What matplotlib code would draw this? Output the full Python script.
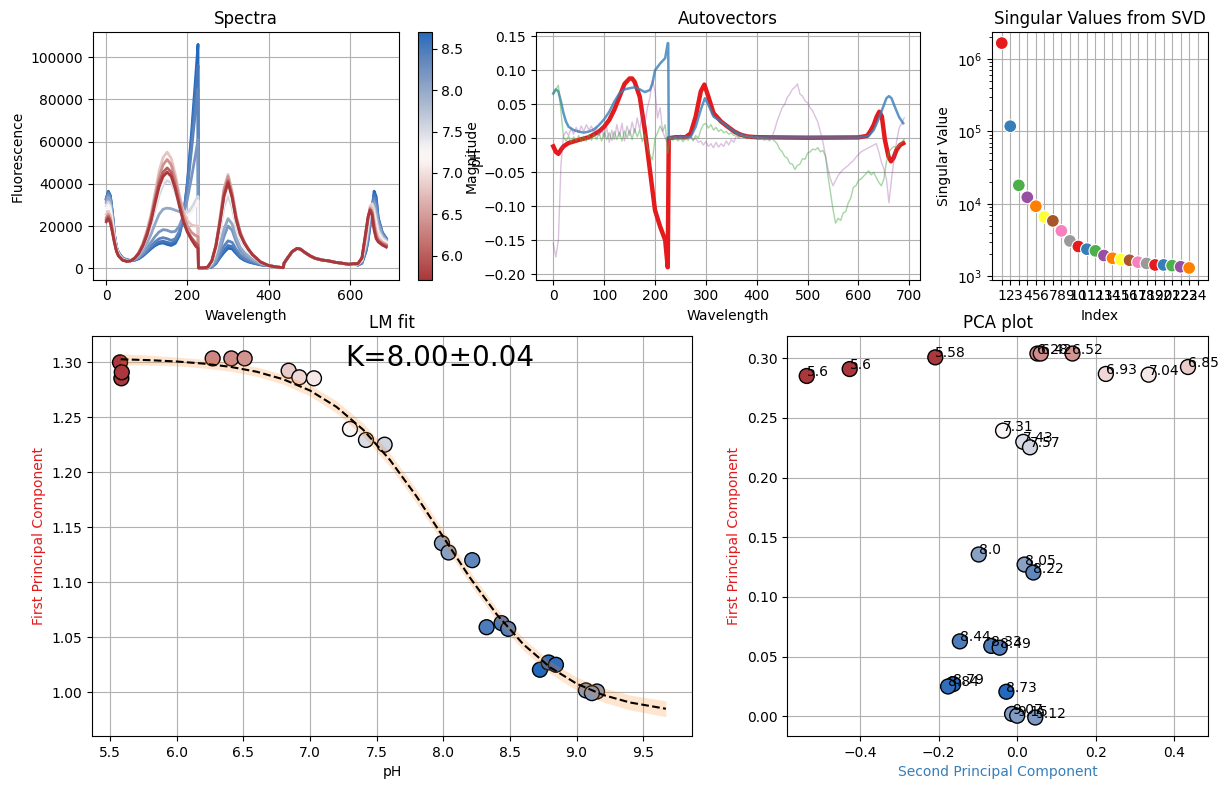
import numpy as np
import matplotlib
matplotlib.use("Agg")
import matplotlib.pyplot as plt
from matplotlib.colors import Normalize, LinearSegmentedColormap
from matplotlib.cm import ScalarMappable

try:
    import seaborn as sns
    cmap = sns.color_palette("vlag_r", as_cmap=True)
except Exception:
    cmap = LinearSegmentedColormap.from_list(
        "vlag_r_approx", ["#a9373b", "#d59a99", "#f2eeee", "#9bb0d6", "#2369bd"])

plt.rcParams['font.family'] = ['DejaVu Sans']
plt.rcParams['axes.axisbelow'] = True

SET1 = ['#e41a1c', '#377eb8', '#4daf4a', '#984ea3', '#ff7f00',
        '#ffff33', '#a65628', '#f781bf', '#999999']

# ---------------- Spectra (values in thousands) ----------------
head_wl = [0, 5, 10, 15, 20, 25, 30, 40, 50, 60, 70, 80, 90, 100, 110, 120, 130, 140,
           150, 160, 170, 180, 190, 200, 210, 220, 226, 227, 240, 250, 260, 270, 280,
           290, 300, 310, 320, 330, 340, 350, 360, 380]
mid_wl = [400, 420, 436, 438, 446, 458, 470, 478, 490, 503, 515, 532, 548, 565, 581, 597, 610]
mid_val = [1.3, 0.6, 0.3, 2.4, 4.7, 7.9, 9.4, 9.1, 7.4, 5.8, 4.7, 3.9, 3.5, 2.8, 2.4, 1.9, 2.2]
tail_wl = [620, 630, 640, 645, 650, 655, 660, 665, 670, 680, 690]

spec_ph = [8.70, 8.55, 8.40, 8.20, 8.00, 7.55, 7.25, 6.80, 6.40, 6.00, 5.71]
spec_head = [
    [33, 36.5, 34.5, 26.5, 16, 10, 7.5, 5, 4, 3.7, 3.8, 4.5, 5.8, 7.5, 9.2, 10.7, 11.7, 12, 11.3, 10.8,
     11.8, 15.5, 24, 41, 64, 90, 106, 0.2, 0.1, 0.2, 0.6, 2.2, 5, 7.5, 9.5, 9.2, 7, 5, 3.8, 3, 2.5, 1.6],
    [33, 36, 34, 26, 16, 10, 7.4, 4.9, 4, 3.7, 3.9, 4.7, 6.1, 7.9, 9.7, 11.4, 12.5, 12.8, 12.3, 11.8,
     12.8, 16.5, 24.5, 40, 61, 84, 96, 0.2, 0.1, 0.2, 0.7, 2.4, 5.5, 8.5, 10.8, 10.3, 7.8, 5.5, 4.2, 3.3, 2.7, 1.7],
    [33, 35.5, 33.5, 25.5, 16, 10, 7.3, 4.8, 4, 3.7, 4, 4.9, 6.5, 8.5, 10.5, 12.5, 14, 14.5, 14, 13.2,
     14, 17.5, 24.5, 38, 56, 75, 85, 0.2, 0.1, 0.2, 0.8, 2.8, 6.5, 10.5, 13, 12.3, 9, 6.3, 4.8, 3.7, 3, 1.8],
    [32, 34.5, 32.5, 25, 16, 10, 7.2, 4.7, 3.9, 3.7, 4.1, 5.2, 7, 9.5, 12.3, 15, 17.2, 18.3, 18, 17.2,
     17.5, 20, 25, 33, 43, 54, 61, 0.2, 0.1, 0.2, 1, 3.5, 8.5, 15, 20, 18, 12.5, 8.5, 6.3, 4.8, 3.7, 2],
    [31, 33.5, 31.5, 24, 15.5, 9.8, 7, 4.5, 3.8, 3.7, 4.3, 5.8, 8.3, 11.8, 16, 21, 25.5, 28, 28.5, 28.2,
     27.5, 26.8, 26, 26, 28, 31.5, 34, 0.2, 0.1, 0.3, 1.5, 5, 11, 18.5, 23.5, 21, 14.5, 10, 7.5, 5.8, 4.3, 2.3],
    [29.5, 31.5, 29.5, 22.5, 15, 9.5, 6.8, 4.3, 3.6, 3.6, 4.7, 6.8, 10, 14.8, 20.5, 27.5, 34.5, 39.5, 41.5, 40.5,
     36, 31, 27, 26.5, 28.5, 32, 34, 0.2, 0.2, 0.5, 2.5, 8, 17.5, 29, 34.5, 29, 20, 14, 10.5, 8, 5.8, 2.8],
    [28, 30, 28, 21.5, 14.5, 9.3, 6.5, 4.2, 3.5, 3.6, 4.8, 7, 10.5, 15.5, 21.5, 29, 36.5, 41.5, 43.5, 42,
     37, 31, 26.5, 25, 26.5, 29.5, 32, 0.2, 0.2, 0.5, 2.8, 9, 19.5, 31.5, 37, 31, 21.5, 15, 11, 8.2, 6, 2.8],
    [25.5, 27, 25, 19.5, 13.5, 8.8, 6.2, 4, 3.4, 3.6, 5, 7.5, 11.8, 18, 25.5, 35.5, 46, 52.5, 55, 52,
     44.5, 35, 27, 22.5, 20.5, 20, 20, 0.2, 0.2, 0.6, 3.5, 11, 23.5, 38, 44.5, 36.5, 25, 17.5, 12.5, 9.2, 6.5, 3],
    [24, 25.5, 23.5, 18.5, 13, 8.5, 6, 4, 3.3, 3.5, 4.8, 7.3, 11.3, 17, 24, 33.5, 43, 49, 51.5, 49,
     42, 33, 25, 20, 17, 15.5, 15, 0.2, 0.2, 0.6, 3.5, 11, 23, 37, 43.5, 35.5, 24.5, 17, 12.5, 9.2, 6.5, 3],
    [23, 24.5, 22.5, 17.5, 12.5, 8.2, 6, 3.9, 3.3, 3.5, 4.8, 7.2, 11, 16.3, 23, 32, 40.5, 45.5, 47.5, 45.5,
     39, 30.5, 22.5, 17.5, 14.5, 12, 11, 0.2, 0.2, 0.6, 3.5, 10.5, 22, 35, 41.5, 34, 23.5, 16.5, 12, 9, 6.5, 3],
    [22, 23.5, 21.5, 17, 12, 8, 5.8, 3.8, 3.3, 3.5, 4.8, 7, 10.5, 15.5, 22, 30.5, 38.5, 43.5, 45.5, 43.5,
     37.5, 29.5, 22, 17, 13.5, 10.5, 9.5, 0.2, 0.2, 0.6, 3.5, 10.5, 21.5, 34, 40.5, 33.5, 23, 16, 12, 9, 6.5, 3],
]
spec_tail = [
    [1.5, 2.4, 8, 13, 20, 28, 36.5, 34, 24, 17, 14.2],
    [1.5, 2.5, 8.5, 13.5, 21, 29, 35, 32.5, 23.5, 17, 14],
    [1.6, 2.7, 9, 14.5, 22, 29.5, 33.5, 30.5, 23, 16.5, 13.8],
    [1.8, 3, 10, 16, 23.5, 30, 32, 28, 22, 16, 13.5],
    [1.9, 3.3, 11, 17.5, 25, 30.5, 30.5, 26, 20.5, 15.5, 13.2],
    [2, 3.8, 12.5, 19.5, 27, 30.5, 28, 23, 18, 14.5, 12.8],
    [2.1, 4.2, 14, 21, 28, 29.5, 25.5, 20.5, 16.5, 13.5, 12.2],
    [2.1, 4.5, 15.5, 22.5, 29.5, 29, 23, 18, 15, 12.5, 11.5],
    [2.2, 4.8, 16.5, 23.5, 28.5, 27, 21, 16, 13.5, 12, 11],
    [2.2, 5, 17.5, 24, 27.8, 26, 19, 14.8, 13, 11.5, 10.5],
    [2.2, 5, 18, 24.5, 27.5, 25, 18, 14, 12.5, 11, 10],
]

# ---------------- Autovectors ----------------
av_red_wl = [0, 5, 10, 15, 20, 30, 50, 70, 90, 100, 110, 120, 130, 140, 150, 155, 160, 170, 180,
             190, 200, 210, 220, 225, 227, 240, 260, 270, 280, 290, 297, 305, 315, 330, 343, 356,
             369, 382, 400, 500, 600, 617, 623, 630, 636, 641, 646, 652, 659, 664, 669, 675, 682, 688]
av_red = [-0.012, -0.020, -0.023, -0.017, -0.012, -0.007, -0.0025, 0.0015, 0.010, 0.017, 0.027,
          0.042, 0.061, 0.080, 0.088, 0.088, 0.083, 0.061, 0.012, -0.047, -0.106, -0.130, -0.150,
          -0.190, 0.0, 0.0015, 0.0015, 0.007, 0.032, 0.069, 0.079, 0.061, 0.037, 0.0245, 0.017,
          0.0098, 0.005, 0.0025, 0.0015, 0.0008, 0.0012, 0.0035, 0.0098, 0.0196, 0.032, 0.039,
          0.032, -0.0025, -0.027, -0.034, -0.029, -0.017, -0.0098, -0.0074]
av_blue_wl = [0, 5, 10, 15, 20, 25, 30, 40, 50, 60, 70, 80, 90, 100, 110, 120, 130, 140, 150, 160,
              170, 180, 190, 195, 200, 210, 220, 225, 226, 227, 240, 270, 280, 290, 298, 305, 315,
              330, 343, 356, 369, 382, 400, 500, 600, 620, 630, 640, 650, 655, 660, 665, 670, 680, 688]
av_blue = [0.066, 0.072, 0.069, 0.054, 0.037, 0.0245, 0.017, 0.012, 0.0098, 0.0083, 0.0098, 0.013,
           0.0196, 0.028, 0.039, 0.054, 0.066, 0.072, 0.0737, 0.075, 0.072, 0.068, 0.071, 0.081,
           0.100, 0.110, 0.118, 0.140, 0.140, 0.001, 0.001, 0.002, 0.017, 0.042, 0.059, 0.049,
           0.032, 0.0245, 0.017, 0.0098, 0.005, 0.0025, 0.0012, 0.0012, 0.001, 0.0035, 0.012,
           0.029, 0.049, 0.059, 0.062, 0.059, 0.049, 0.031, 0.022]
av_step_wl = list(range(0, 695, 5))
av_green = [0.064, 0.072, 0.078, 0.040, 0.002, -0.004, 0.003, -0.006, 0.002, -0.004, 0.004, -0.005,
            0.003, -0.004, 0.005, -0.003, 0.006, -0.002, 0.008, -0.004, 0.009, -0.002, 0.008, -0.003,
            0.010, -0.002, 0.009, -0.004, 0.011, 0.000, 0.012, -0.002, 0.014, 0.002, 0.012, -0.005,
            0.006, -0.012, -0.025, -0.032, 0.000, 0.008, 0.018, 0.010, 0.020, -0.022, 0.001, -0.003,
            0.002, -0.004, 0.001, -0.005, 0.000, -0.003, 0.002, -0.004, 0.004, 0.000, 0.012, 0.020,
            0.022, 0.015, 0.020, 0.012, 0.016, 0.010, 0.013, 0.008, 0.010, 0.006, 0.008, 0.004,
            0.006, 0.002, 0.005, 0.001, 0.004, 0.000, 0.003, 0.000, 0.002, -0.001, 0.001, -0.001,
            0.000, -0.002, -0.001, -0.004, -0.008, -0.016, -0.020, -0.027, -0.029, -0.037, -0.038,
            -0.046, -0.040, -0.038, -0.030, -0.031, -0.022, -0.020, -0.016, -0.017, -0.014, -0.020,
            -0.018, -0.026, -0.055, -0.080, -0.105, -0.125, -0.118, -0.121, -0.110, -0.108, -0.095,
            -0.088, -0.072, -0.070, -0.062, -0.060, -0.056, -0.052, -0.048, -0.054, -0.050, -0.058,
            -0.065, -0.070, -0.060, -0.035, -0.020, -0.015, -0.012, -0.014, -0.010, -0.006, -0.001]
av_purple = [-0.155, -0.175, -0.150, -0.040, 0.003, 0.010, 0.004, 0.014, 0.006, 0.016, 0.008, 0.018,
             0.010, 0.020, 0.012, 0.018, 0.008, 0.016, 0.004, 0.014, 0.000, 0.016, -0.006, 0.012,
             -0.002, 0.020, 0.002, 0.022, -0.004, 0.018, 0.004, 0.024, 0.008, 0.030, 0.012, 0.040,
             0.020, 0.045, 0.060, 0.085, 0.070, 0.030, 0.045, 0.010, 0.000, -0.008, 0.002, 0.000,
             0.004, 0.001, 0.005, 0.000, 0.004, -0.001, 0.003, -0.002, 0.000, -0.006, -0.004, -0.010,
             -0.005, -0.012, -0.008, -0.014, -0.006, -0.013, -0.008, -0.012, -0.004, -0.010, -0.002,
             -0.006, 0.004, 0.000, 0.008, 0.003, 0.006, 0.000, 0.004, -0.001, 0.002, -0.002, 0.000,
             -0.003, -0.001, -0.004, 0.002, 0.012, 0.025, 0.035, 0.045, 0.050, 0.060, 0.065, 0.072,
             0.075, 0.080, 0.065, 0.062, 0.055, 0.052, 0.045, 0.040, 0.032, 0.024, 0.010, -0.005,
             -0.025, -0.045, -0.060, -0.070, -0.062, -0.055, -0.050, -0.046, -0.043, -0.040, -0.036,
             -0.033, -0.028, -0.024, -0.020, -0.018, -0.016, -0.014, -0.012, -0.010, -0.008, -0.020,
             -0.035, -0.045, -0.060, -0.095, -0.060, -0.030, -0.005, 0.015, 0.022, 0.030]

# ---------------- Singular values ----------------
sv_index = list(range(1, 24))
sv_values = [1.66e6, 1.18e5, 1.80e4, 1.23e4, 9.26e3, 6.59e3, 5.81e3, 4.23e3, 3.07e3, 2.57e3,
             2.36e3, 2.24e3, 1.93e3, 1.77e3, 1.70e3, 1.66e3, 1.56e3, 1.50e3, 1.43e3, 1.43e3,
             1.40e3, 1.35e3, 1.30e3]
sv_ticks = list(range(1, 25))

# ---------------- Samples (LM fit and PCA) ----------------
labels = ['5.58', '5.6', '5.6', '6.28', '6.42', '6.52', '6.85', '6.93', '7.04', '7.31', '7.43', '7.57',
          '8.0', '8.05', '8.22', '8.33', '8.44', '8.49', '8.73', '8.79', '8.84', '9.07', '9.15', '9.12']
ph = [5.575, 5.585, 5.588, 6.27, 6.41, 6.51, 6.84, 6.92, 7.03, 7.30, 7.42, 7.56,
      7.99, 8.04, 8.217, 8.325, 8.437, 8.487, 8.725, 8.79, 8.845, 9.07, 9.153, 9.115]
lm_y = [1.300, 1.2855, 1.291, 1.3036, 1.3036, 1.3036, 1.2924, 1.2864, 1.2855, 1.2394, 1.2294, 1.2251,
        1.1355, 1.127, 1.120, 1.059, 1.0627, 1.0575, 1.0203, 1.0269, 1.0248, 1.0015, 1.0005, 0.999]
pc1 = [0.3008, 0.2852, 0.2910, 0.3040, 0.3040, 0.3040, 0.2927, 0.2869, 0.2863, 0.2394, 0.2300, 0.2254,
       0.1356, 0.1272, 0.1205, 0.0590, 0.0628, 0.0575, 0.0206, 0.0270, 0.0250, 0.0020, 0.0005, -0.0010]
pc2 = [-0.2086, -0.536, -0.4266, 0.0515, 0.060, 0.1408, 0.435, 0.2258, 0.3348, -0.036, 0.0155, 0.0326,
       -0.098, 0.0189, 0.0412, -0.066, -0.146, -0.0446, -0.0275, -0.163, -0.176, -0.013, 0.000, 0.046]
pt_shade = [0.0, 0.0, 0.0, 0.2, 0.22, 0.24, 0.38, 0.41, 0.45, 0.5, 0.6, 0.62,
            0.8, 0.8, 0.89, 0.93, 0.93, 0.92, 1.0, 0.99, 0.98, 0.81, 0.81, 0.82]

fit_ph = [5.58, 5.8, 6.0, 6.2, 6.4, 6.6, 6.8, 7.0, 7.2, 7.4, 7.6, 7.8, 8.0, 8.2, 8.4, 8.6, 8.8,
          9.0, 9.2, 9.4, 9.67]
fit_y = [1.3028, 1.3020, 1.3008, 1.2989, 1.2960, 1.2915, 1.2846, 1.2744, 1.2594, 1.2386, 1.2112,
         1.1779, 1.1410, 1.1041, 1.0708, 1.0435, 1.0226, 1.0076, 0.9973, 0.9905, 0.9848]
fit_lo = [1.2978, 1.2975, 1.2968, 1.2949, 1.2920, 1.2873, 1.2801, 1.2694, 1.2539, 1.2326, 1.2050,
          1.1717, 1.1350, 1.0983, 1.0652, 1.0380, 1.0170, 1.0016, 0.9909, 0.9837, 0.9776]
fit_hi = [1.3078, 1.3065, 1.3048, 1.3029, 1.3000, 1.2957, 1.2891, 1.2794, 1.2649, 1.2446, 1.2174,
          1.1841, 1.1470, 1.1099, 1.0764, 1.0490, 1.0282, 1.0136, 1.0037, 0.9973, 0.9920]
lm_xticks = [5.5, 6.0, 6.5, 7.0, 7.5, 8.0, 8.5, 9.0, 9.5]
k_text = "K=8.00±0.04"

# ---------------- Figure ----------------
W, H = 1229, 789
fig = plt.figure(figsize=(W / 100, H / 100), dpi=100)


def rect(x0, y0, x1, y1):
    return [x0 / W, 1 - y1 / H, (x1 - x0) / W, (y1 - y0) / H]


ax_sp = fig.add_axes(rect(92.5, 32.3, 399.3, 279.5))
cax = fig.add_axes(rect(418.3, 32.3, 431.7, 279.5))
ax_av = fig.add_axes(rect(536, 32.3, 920, 279.5))
ax_sv = fig.add_axes(rect(991.7, 32.3, 1208.3, 279.5))
ax_lm = fig.add_axes(rect(92.3, 336, 692.3, 736))
ax_pc = fig.add_axes(rect(787.5, 336, 1208, 736))

# Spectra
norm = Normalize(5.71, 8.70)
wl_all = head_wl + mid_wl + tail_wl
for p, hd, tl in zip(spec_ph, spec_head, spec_tail):
    vals = np.array(hd + mid_val + tl) * 1000.0
    ax_sp.plot(wl_all, vals, color=cmap(norm(p)), lw=2)
ax_sp.set_xlim(-34, 722)
ax_sp.set_ylim(-5300, 111700)
ax_sp.grid(True)
ax_sp.set_title("Spectra")
ax_sp.set_xlabel("Wavelength")
ax_sp.set_ylabel("Fluorescence")
cb = fig.colorbar(ScalarMappable(norm=norm, cmap=cmap), cax=cax)
cb.set_label("pH")

# Autovectors
ax_av.plot(av_red_wl, av_red, color=SET1[0], lw=3.2)
ax_av.plot(av_blue_wl, av_blue, color=SET1[1], lw=1.8, alpha=0.8)
ax_av.plot(av_step_wl, av_green, color=SET1[2], lw=1, alpha=0.5)
ax_av.plot(av_step_wl, av_purple, color=SET1[3], lw=1, alpha=0.35)
ax_av.set_xlim(-34, 721)
ax_av.set_ylim(-0.208, 0.156)
ax_av.grid(True)
ax_av.set_title("Autovectors")
ax_av.set_xlabel("Wavelength")
ax_av.set_ylabel("Magnitude")

# Singular values
ax_sv.scatter(sv_index, sv_values, c=[SET1[i % 9] for i in range(len(sv_index))],
              s=85, edgecolors='white', linewidths=0.8, zorder=3)
ax_sv.set_yscale('log')
ax_sv.set_xticks(sv_ticks)
ax_sv.set_xticklabels([str(t) for t in sv_ticks])
ax_sv.set_xlim(-0.18, 25.25)
ax_sv.set_ylim(900, 2.34e6)
ax_sv.grid(True)
ax_sv.set_title("Singular Values from SVD")
ax_sv.set_xlabel("Index")
ax_sv.set_ylabel("Singular Value")

# LM fit
pt_colors = [cmap(s) for s in pt_shade]
ax_lm.scatter(ph, lm_y, c=pt_colors, s=115, edgecolors='black', linewidths=1)
ax_lm.fill_between(fit_ph, fit_lo, fit_hi, color='#ff7f0e', alpha=0.2, linewidth=0)
ax_lm.plot(fit_ph, fit_y, 'k--', lw=1.5)
ax_lm.text(0.421, 0.925, k_text, transform=ax_lm.transAxes, fontsize=20, va='baseline')
ax_lm.set_xticks(lm_xticks)
ax_lm.set_xlim(5.367, 9.868)
ax_lm.set_ylim(0.960, 1.324)
ax_lm.grid(True)
ax_lm.set_title("LM fit")
ax_lm.set_xlabel("pH")
ax_lm.set_ylabel("First Principal Component", color=SET1[0])

# PCA plot
ax_pc.scatter(pc2, pc1, c=pt_colors, s=115, edgecolors='black', linewidths=1)
for x, y, lab in zip(pc2, pc1, labels):
    ax_pc.text(x, y, lab)
ax_pc.set_xlim(-0.585, 0.486)
ax_pc.set_ylim(-0.0165, 0.3187)
ax_pc.grid(True)
ax_pc.set_title("PCA plot")
ax_pc.set_xlabel("Second Principal Component", color=SET1[1])
ax_pc.set_ylabel("First Principal Component", color=SET1[0])

fig.savefig("out.png", dpi=100)
